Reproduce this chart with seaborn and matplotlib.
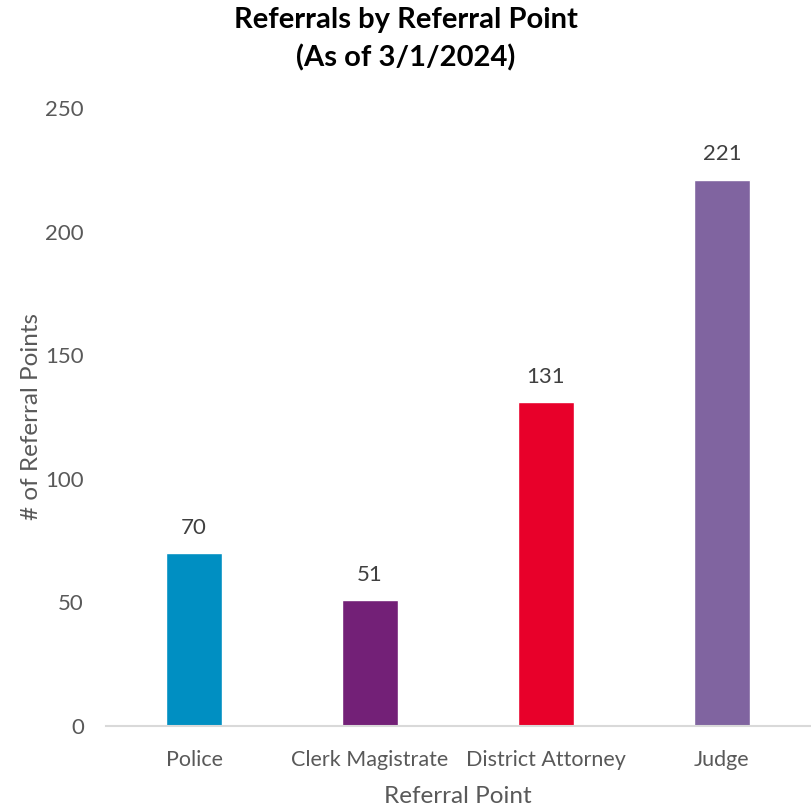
import matplotlib
matplotlib.use('Agg')
import matplotlib.pyplot as plt
import seaborn as sns
import pandas as pd

# data
categories = ["Police", "Clerk Magistrate", "District Attorney", "Judge"]
referrals = [70, 51, 131, 221]
bar_colors = ["#008FC2", "#732077", "#E8002A", "#8064A0"]
y_ticks = [0, 50, 100, 150, 200, 250]

df = pd.DataFrame({"point": categories, "count": referrals})

sns.set_style("white")
plt.rcParams['font.family'] = ['Lato', 'DejaVu Sans']
GRAY = "#595959"

fig = plt.figure(figsize=(8.11, 8.07), dpi=100)
ax = fig.add_axes([106 / 811, 81 / 807, 704 / 811, 618 / 807])

sns.barplot(data=df, x="point", y="count", hue="point", palette=bar_colors,
            width=0.32, legend=False, saturation=1, ax=ax)

# value labels above bars
for i, v in enumerate(referrals):
    ax.annotate(str(v), (i, v), xytext=(0, 11), textcoords="offset points",
                ha="center", va="bottom", fontsize=16, color="#404040")

ax.set_ylim(0, 250)
ax.set_xlim(-0.5, 3.5)
ax.set_yticks(y_ticks)
ax.tick_params(axis="y", labelsize=16, labelcolor=GRAY, length=0, pad=16)
ax.tick_params(axis="x", labelsize=15.5, labelcolor=GRAY, length=0, pad=17)

for s in ["top", "right", "left"]:
    ax.spines[s].set_visible(False)
ax.spines["bottom"].set_color("#D9D9D9")
ax.spines["bottom"].set_linewidth(1.5)

ax.set_xlabel("Referral Point", fontsize=17.5, color=GRAY, labelpad=12)
ax.set_ylabel("# of Referral Points", fontsize=17.5, color=GRAY, labelpad=2)

fig.text(0.5, 1 - 20 / 807, "Referrals by Referral Point", ha="center", va="center",
         fontsize=21, fontweight="bold", color="black")
fig.text(0.5, 1 - 58 / 807, "(As of 3/1/2024)", ha="center", va="center",
         fontsize=21, fontweight="bold", color="black")

fig.savefig("out.png", dpi=100)
